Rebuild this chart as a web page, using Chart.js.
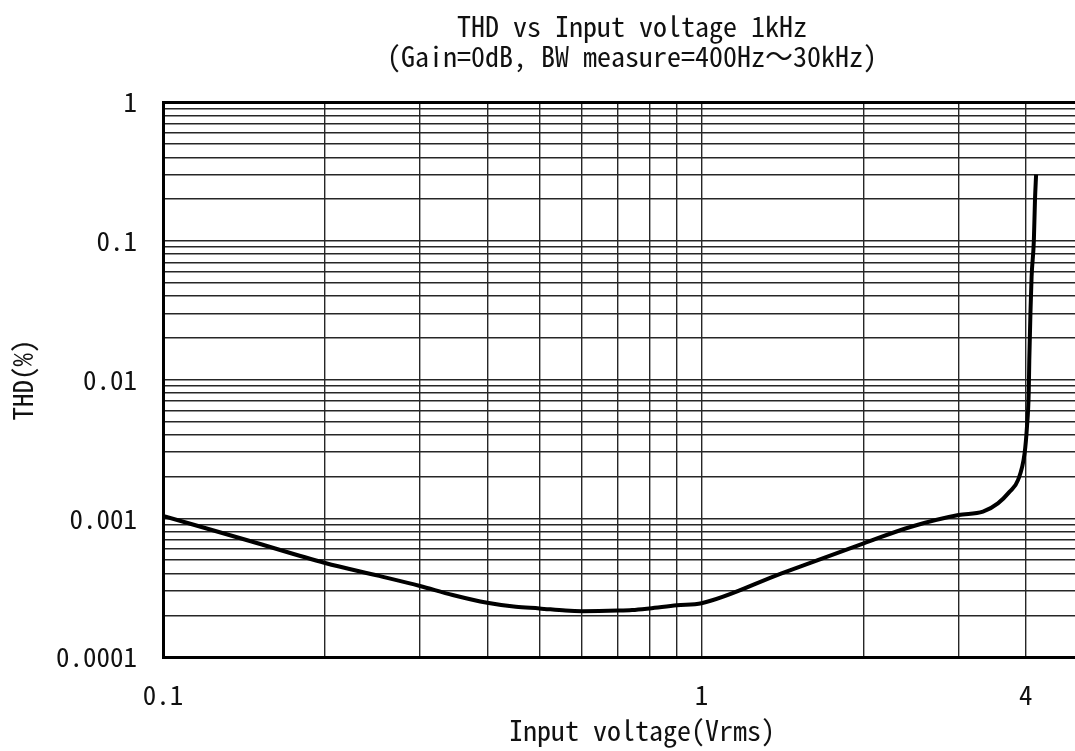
<!DOCTYPE html>
<html>
<head>
<meta charset="utf-8">
<script src="https://cdn.jsdelivr.net/npm/chart.js@4/dist/chart.umd.min.js"></script>
<style>
  html, body { margin: 0; padding: 0; background: #fff; overflow: hidden; }
</style>
</head>
<body>
<canvas id="grafico_thd" width="1100" height="751"></canvas>
<script>
// valores (Vrms, THD %)
const voltage = [0.1, 0.145, 0.2, 0.252, 0.3, 0.345, 0.4, 0.452, 0.5, 0.559, 0.6, 0.7, 0.743, 0.8, 0.9, 1.0,
  1.408, 2.0, 2.45, 3.0, 3.33, 3.55, 3.73, 3.87, 3.98, 4.02, 4.05, 4.06, 4.08, 4.10, 4.14, 4.16, 4.18];
const thd = [0.00104, 0.000686, 0.000476, 0.000384, 0.000325, 0.00028, 0.000246, 0.00023, 0.000224, 0.000216, 0.000214, 0.000216, 0.000218, 0.000224, 0.000236, 0.000244,
  0.000401, 0.00066, 0.000869, 0.001055, 0.001115, 0.00128, 0.00155, 0.00189, 0.00295, 0.00457, 0.008, 0.0138, 0.030, 0.055, 0.10, 0.197, 0.30];

// linhas da grade
const xGrid = [0.1, 0.2, 0.3, 0.4, 0.5, 0.6, 0.7, 0.8, 0.9, 1, 2, 3, 4, 5];
const yDecades = [0.0001, 0.001, 0.01, 0.1];
const yMantissas = [1, 2, 3, 4, 5, 6, 7, 8, 9];

// textos dos ticks
const xTickLabels = ['0.1', '1', '4'];
const yTickLabels = ['0.0001', '0.001', '0.01', '0.1', '1'];

const titulo = ['THD vs Input voltage 1kHz', '(Gain=0dB, BW measure=400Hz～30kHz)'];
const tituloX = 'Input voltage(Vrms)';
const tituloY = 'THD(%)';

const fonte = "'Noto Sans Mono CJK JP', 'DejaVu Sans Mono', monospace";
const corTexto = '#111';
const corGrade = '#262626';

function labelDe(lista, value) {
  const achado = lista.find(l => Math.abs(parseFloat(l) - value) < value * 1e-6);
  return achado !== undefined ? achado : '';
}

const yGrid = [];
yDecades.forEach(d => yMantissas.forEach(m => yGrid.push(m * d)));
yGrid.push(1);

// desenha os titulos (grafico e eixos)
const textosPlugin = {
  id: 'textos',
  afterDraw(chart) {
    const ctx = chart.ctx;
    ctx.save();
    ctx.fillStyle = corTexto;
    ctx.textAlign = 'center';
    ctx.textBaseline = 'alphabetic';
    ctx.font = `28px ${fonte}`;
    ctx.fillText(titulo[0], 632, 37);
    ctx.fillText(titulo[1], 632, 67);
    ctx.fillText(tituloX, 642, 741);
    ctx.font = `27px ${fonte}`;
    ctx.translate(33, 380);
    ctx.rotate(-Math.PI / 2);
    ctx.fillText(tituloY, 0, 0);
    ctx.restore();
  }
};

function criarGrafico() {
  const ctx = document.getElementById('grafico_thd');

  const data = {
    datasets: [
      {
        label: 'THD',
        data: voltage.map((v, i) => ({ x: v, y: thd[i] })),
        borderColor: '#000',
        borderWidth: 4,
        pointRadius: 0,
        cubicInterpolationMode: 'monotone',
        fill: false,
      },
    ],
  };

  const options = {
    responsive: false,
    animation: false,
    layout: { padding: { left: 0, right: 20, top: 102, bottom: 0 } },
    plugins: {
      legend: { display: false },
      tooltip: { enabled: false },
    },
    scales: {
      x: {
        type: 'logarithmic',
        min: 0.1,
        max: 5,
        afterBuildTicks: (scale) => { scale.ticks = xGrid.map(v => ({ value: v })); },
        afterFit: (scale) => { scale.height = 94; },
        grid: {
          color: corGrade,
          lineWidth: 1.4,
          drawTicks: false,
        },
        border: { display: true, color: '#000', width: 3 },
        ticks: {
          autoSkip: false,
          maxRotation: 0,
          minRotation: 0,
          padding: 22,
          color: corTexto,
          font: { family: fonte, size: 27 },
          callback: (value) => labelDe(xTickLabels, value),
        },
      },
      y: {
        type: 'logarithmic',
        min: 0.0001,
        max: 1,
        afterBuildTicks: (scale) => { scale.ticks = yGrid.map(v => ({ value: v })); },
        afterFit: (scale) => { scale.width = 163; },
        grid: {
          color: (c) => (c.tick && c.tick.value === 1 ? '#000' : corGrade),
          lineWidth: (c) => (c.tick && c.tick.value === 1 ? 3 : 1.4),
          drawTicks: false,
        },
        border: { display: true, color: '#000', width: 3 },
        ticks: {
          autoSkip: false,
          padding: 26,
          color: corTexto,
          font: { family: fonte, size: 27 },
          callback: (value) => labelDe(yTickLabels, value),
        },
      },
    },
  };

  return new Chart(ctx, {
    type: 'line',
    data: data,
    options: options,
    plugins: [textosPlugin],
  });
}

criarGrafico();
</script>
</body>
</html>
